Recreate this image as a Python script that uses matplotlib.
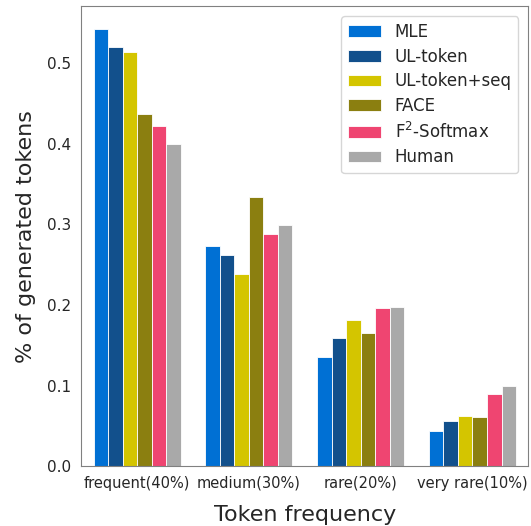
import matplotlib.pyplot as plt
import numpy as np
import seaborn as sns

categories = ['frequent(40%)', 'medium(30%)', 'rare(20%)', 'very rare(10%)']
methods = ['MLE', 'UL-token', 'UL-token+seq', 'FACE', r'F$^2$-Softmax', 'Human']
mle = [0.543, 0.273, 0.135, 0.043]
ul_token = [0.520, 0.262, 0.159, 0.056]
ul_token_seq = [0.514, 0.238, 0.181, 0.062]
face = [0.437, 0.334, 0.165, 0.061]
f2_softmax = [0.422, 0.288, 0.196, 0.089]
human = [0.400, 0.299, 0.198, 0.099]
colors = ['#0070d4', '#12508c', '#d4c500', '#8b7f10', '#ef4571', '#a9a9a9']

sns.set_style('white')
fig, ax = plt.subplots(figsize=(5.31, 5.26), dpi=100)
x = np.arange(len(categories))
w = 0.13
series = [mle, ul_token, ul_token_seq, face, f2_softmax, human]
for i, vals in enumerate(series):
    ax.bar(x + (i - 2.5) * w, vals, w, color=colors[i], label=methods[i],
           edgecolor='white', linewidth=0.6)

ax.set_xlim(-0.5, 3.5)
ax.set_ylim(0, 0.571)
ax.set_xticks(x)
ax.set_xticklabels(categories, fontsize=10.5)
ax.set_yticks([0, 0.1, 0.2, 0.3, 0.4, 0.5])
ax.tick_params(axis='y', labelsize=11)
ax.set_xlabel('Token frequency', fontsize=16, labelpad=10)
ax.set_ylabel('% of generated tokens', fontsize=16, labelpad=8)
for s in ax.spines.values():
    s.set_color('#808080')
ax.legend(loc='upper right', fontsize=12, borderaxespad=0.6, labelspacing=0.4)
plt.subplots_adjust(left=0.153, right=0.995, top=0.988, bottom=0.114)
plt.savefig('out.png')
